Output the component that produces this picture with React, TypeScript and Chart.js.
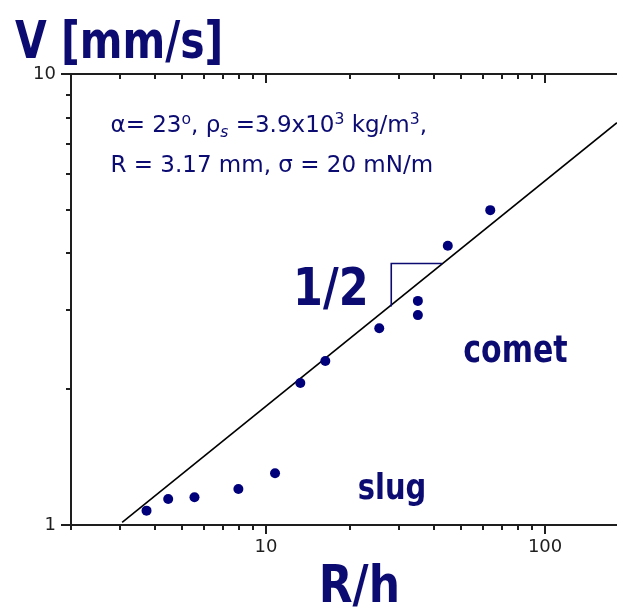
import React, { useEffect, useRef } from 'react';
import { Chart, registerables } from 'chart.js';

Chart.register(...registerables);

// ---- data ----
const pointsX = [3.73, 4.46, 5.54, 7.96, 10.77, 13.27, 16.31, 25.45, 35.0, 35.0, 44.8, 63.6];
const pointsY = [1.076, 1.142, 1.152, 1.202, 1.302, 2.065, 2.31, 2.73, 3.14, 2.92, 4.16, 4.99];

const fitX = [3.05, 181];
const fitY = [1.013, 7.8];

const triangleX = [28.1, 28.1, 42.7];
const triangleY = [3.05, 3.8, 3.8];

const xTickValues = [2, 3, 4, 5, 6, 7, 8, 9, 10, 20, 30, 40, 50, 60, 70, 80, 90, 100];
const yTickValues = [1, 2, 3, 4, 5, 6, 7, 8, 9, 10];
const xTickLabels = ['10', '100'];
const yTickLabels = ['1', '10'];

const NAVY = '#0b0b72';
const DOT = '#00007a';
const AXIS = '#1e1e1e';
const FONT = '"DejaVu Sans", Verdana, sans-serif';

type Seg = { t: string; sup?: boolean; sub?: boolean; italic?: boolean };

const paramLine1: Seg[] = [
  { t: 'α= 23' }, { t: 'o', sup: true }, { t: ', ρ' }, { t: 's', sub: true, italic: true },
  { t: ' =3.9x10' }, { t: '3', sup: true }, { t: ' kg/m' }, { t: '3', sup: true }, { t: ',' },
];
const paramLine2: Seg[] = [{ t: 'R = 3.17 mm, σ = 20 mN/m' }];

// annotation anchors in data coordinates (x, y)
const annotations = [
  { kind: 'rich', segs: paramLine1, x: 2.77, y: 7.44, size: 23 },
  { kind: 'rich', segs: paramLine2, x: 2.77, y: 6.06, size: 23 },
  { kind: 'bold', text: '1/2', x: 12.5, y: 3.07, size: 43, stretch: 1.2 },
  { kind: 'bold', text: 'comet', x: 50.9, y: 2.3, size: 30, stretch: 1.25 },
  { kind: 'bold', text: 'slug', x: 21.3, y: 1.14, size: 29, stretch: 1.25 },
];

function drawRich(ctx: CanvasRenderingContext2D, segs: Seg[], x: number, y: number, size: number) {
  let cx = x;
  for (const s of segs) {
    const small = s.sup || s.sub;
    const fs = small ? size * 0.68 : size;
    ctx.font = `${s.italic ? 'italic ' : ''}${fs}px ${FONT}`;
    const dy = s.sup ? -size * 0.36 : s.sub ? size * 0.22 : 0;
    ctx.fillText(s.t, cx, y + dy);
    cx += ctx.measureText(s.t).width;
  }
}

function drawStretched(ctx: CanvasRenderingContext2D, text: string, x: number, y: number, k: number) {
  ctx.save();
  ctx.translate(x, y);
  ctx.scale(1, k);
  ctx.fillText(text, 0, 0);
  ctx.restore();
}

const decorPlugin = {
  id: 'decor',
  afterDatasetsDraw(chart: any) {
    const { ctx, chartArea: a, scales } = chart;
    const xs = scales.x;
    const ys = scales.y;
    ctx.save();
    // axes
    ctx.strokeStyle = AXIS;
    ctx.lineWidth = 2;
    ctx.beginPath();
    ctx.moveTo(a.left, a.top);
    ctx.lineTo(a.right, a.top);
    ctx.moveTo(a.left, a.top - 1);
    ctx.lineTo(a.left, a.bottom + 1);
    ctx.moveTo(a.left, a.bottom);
    ctx.lineTo(a.right, a.bottom);
    // x ticks (bottom outward, top inward)
    for (const v of xTickValues) {
      const px = Math.round(xs.getPixelForValue(v));
      const major = xTickLabels.includes(String(v));
      const len = major ? 9 : 5;
      ctx.moveTo(px, a.bottom);
      ctx.lineTo(px, a.bottom + len);
      ctx.moveTo(px, a.top);
      ctx.lineTo(px, a.top + len);
    }
    // y ticks (left outward)
    for (const v of yTickValues) {
      const py = Math.round(ys.getPixelForValue(v));
      const major = yTickLabels.includes(String(v));
      const len = major ? 10 : 5;
      ctx.moveTo(a.left, py);
      ctx.lineTo(a.left - len, py);
    }
    ctx.stroke();

    // annotations
    ctx.fillStyle = NAVY;
    ctx.textBaseline = 'alphabetic';
    ctx.textAlign = 'left';
    for (const an of annotations as any[]) {
      const px = xs.getPixelForValue(an.x);
      const py = ys.getPixelForValue(an.y);
      if (an.kind === 'rich') {
        drawRich(ctx, an.segs, px, py, an.size);
      } else {
        ctx.font = `bold ${an.size}px ${FONT}`;
        drawStretched(ctx, an.text, px, py, an.stretch || 1);
      }
    }

    // axis titles
    ctx.font = `bold 41px ${FONT}`;
    ctx.textAlign = 'left';
    drawStretched(ctx, 'V [mm/s]', a.left - 56, a.top - 16, 1.25);
    ctx.font = `bold 44px ${FONT}`;
    ctx.textAlign = 'center';
    drawStretched(ctx, 'R/h', xs.getPixelForValue(21.6), a.bottom + 77, 1.18);
    ctx.restore();
  },
};

export default function App() {
  const ref = useRef<HTMLCanvasElement>(null);

  useEffect(() => {
    const canvas = ref.current;
    if (!canvas) return;
    const chart = new Chart(canvas, {
      type: 'scatter',
      data: {
        datasets: [
          {
            label: 'data',
            data: pointsX.map((x, i) => ({ x, y: pointsY[i] })),
            backgroundColor: DOT,
            borderWidth: 0,
            pointRadius: 5,
            showLine: false,
            order: 0,
          },
          {
            label: 'fit',
            data: fitX.map((x, i) => ({ x, y: fitY[i] })),
            borderColor: '#000',
            borderWidth: 1.6,
            pointRadius: 0,
            showLine: true,
            order: 2,
          },
          {
            label: 'slope',
            data: triangleX.map((x, i) => ({ x, y: triangleY[i] })),
            borderColor: NAVY,
            borderWidth: 1.6,
            pointRadius: 0,
            showLine: true,
            order: 1,
          },
        ],
      },
      options: {
        responsive: false,
        devicePixelRatio: 1,
        animation: false,
        events: [],
        layout: { autoPadding: false, padding: { top: 74, left: 0, right: 0, bottom: 0 } },
        plugins: { legend: { display: false }, tooltip: { enabled: false }, title: { display: false } },
        scales: {
          x: {
            type: 'logarithmic',
            position: 'bottom',
            min: 2,
            max: 181,
            bounds: 'data',
            afterBuildTicks: (s: any) => {
              s.ticks = xTickValues.map((v) => ({ value: v }));
            },
            afterFit: (s: any) => {
              s.height = 87;
              s.paddingLeft = 0;
              s.paddingRight = 0;
            },
            ticks: {
              autoSkip: false,
              maxRotation: 0,
              minRotation: 0,
              padding: 3,
              color: '#1e1e1e',
              font: { family: FONT, size: 18 },
              callback: (v: any) => (xTickLabels.includes(String(v)) ? String(v) : ''),
            },
            grid: { display: true, drawOnChartArea: false, drawTicks: true, tickLength: 9, color: 'rgba(0,0,0,0)' },
            border: { display: false },
          },
          y: {
            type: 'logarithmic',
            position: 'left',
            min: 1,
            max: 10,
            bounds: 'data',
            afterBuildTicks: (s: any) => {
              s.ticks = yTickValues.map((v) => ({ value: v }));
            },
            afterFit: (s: any) => {
              s.width = 71;
              s.paddingTop = 0;
              s.paddingBottom = 0;
            },
            ticks: {
              autoSkip: false,
              padding: 5,
              color: '#1e1e1e',
              font: { family: FONT, size: 18 },
              callback: (v: any) => (yTickLabels.includes(String(v)) ? String(v) : ''),
            },
            grid: { display: true, drawOnChartArea: false, drawTicks: true, tickLength: 10, color: 'rgba(0,0,0,0)' },
            border: { display: false },
          },
        },
      },
      plugins: [decorPlugin],
    } as any);
    return () => chart.destroy();
  }, []);

  return (
    <div style={{ position: 'absolute', left: 0, top: 0, width: 617, height: 612, background: '#fff' }}>
      <canvas ref={ref} width={617} height={612} style={{ display: 'block', width: 617, height: 612 }} />
    </div>
  );
}
